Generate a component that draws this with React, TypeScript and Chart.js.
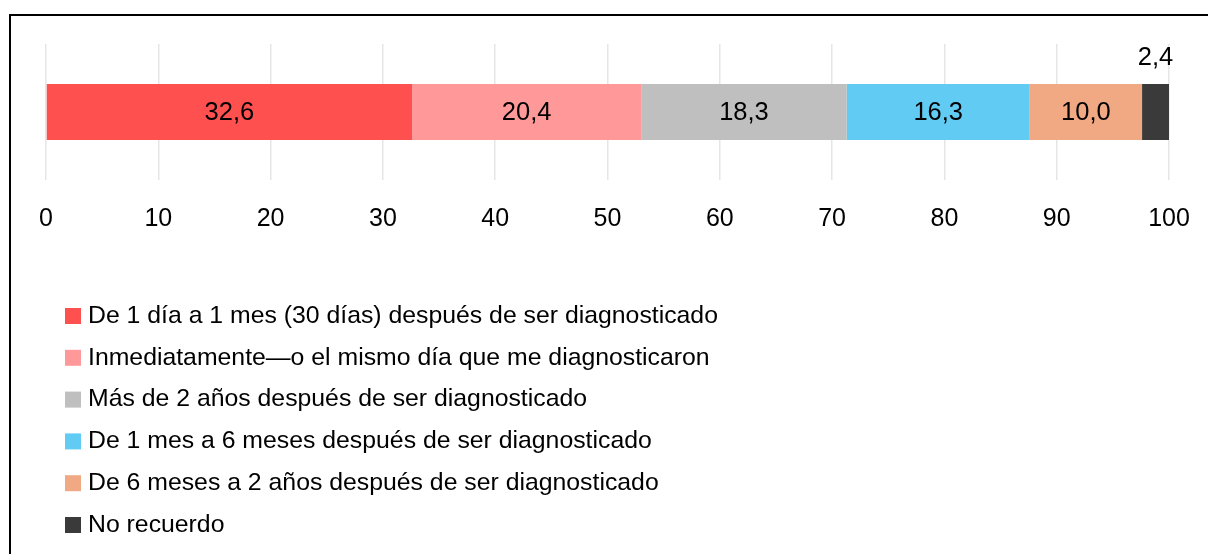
import React, { useEffect, useRef } from "react";
import { Chart, registerables } from "chart.js";

Chart.register(...registerables);

const categories = ["Respuesta"];
const seriesLabels = [
  "De 1 día a 1 mes (30 días) después de ser diagnosticado",
  "Inmediatamente\u2014o el mismo día que me diagnosticaron",
  "Más de 2 años después de ser diagnosticado",
  "De 1 mes a 6 meses después de ser diagnosticado",
  "De 6 meses a 2 años después de ser diagnosticado",
  "No recuerdo",
];
const seriesValues = [32.6, 20.4, 18.3, 16.3, 10.0, 2.4];
const seriesColors = ["#FF5050", "#FF9999", "#BFBFBF", "#61CBF3", "#F1A983", "#3A3A3A"];
const tickValues = [0, 10, 20, 30, 40, 50, 60, 70, 80, 90, 100];

const FONT = "'Liberation Sans', Arial, sans-serif";

const fmt = (v: number) => v.toFixed(1).replace(".", ",");

const labelPlugin = {
  id: "segLabels",
  afterDatasetsDraw(chart: any) {
    const ctx = chart.ctx;
    ctx.save();
    ctx.font = `25.5px ${FONT}`;
    ctx.fillStyle = "#000";
    ctx.textAlign = "center";
    ctx.textBaseline = "middle";
    chart.data.datasets.forEach((ds: any, i: number) => {
      const meta = chart.getDatasetMeta(i);
      meta.data.forEach((bar: any, j: number) => {
        const v = ds.data[j];
        const cx = (bar.x + bar.base) / 2;
        const w = Math.abs(bar.x - bar.base);
        const text = fmt(v);
        const tw = ctx.measureText(text).width;
        if (tw + 6 < w) {
          ctx.fillText(text, cx, bar.y + 1);
        } else {
          ctx.fillText(text, cx, bar.y - bar.height / 2 - 26);
        }
      });
    });
    ctx.restore();
  },
};

const legendPlugin = {
  id: "vertLegend",
  afterDraw(chart: any) {
    const ctx = chart.ctx;
    ctx.save();
    ctx.font = `24.8px ${FONT}`;
    ctx.textAlign = "left";
    ctx.textBaseline = "middle";
    const startY = 316;
    const step = 41.8;
    chart.data.datasets.forEach((ds: any, i: number) => {
      const y = startY + i * step;
      ctx.fillStyle = ds.backgroundColor;
      ctx.fillRect(65, y - 8, 16, 16);
      ctx.fillStyle = "#000";
      ctx.fillText(ds.label, 88, y);
    });
    ctx.restore();
  },
};

export default function App() {
  const ref = useRef<HTMLCanvasElement>(null);
  useEffect(() => {
    if (!ref.current) return;
    const chart = new Chart(ref.current, {
      type: "bar",
      data: {
        labels: categories,
        datasets: seriesLabels.map((label, i) => ({
          label,
          data: [seriesValues[i]],
          backgroundColor: seriesColors[i],
          borderWidth: 0,
          barPercentage: 0.41,
          categoryPercentage: 1,
        })),
      },
      options: {
        indexAxis: "y",
        animation: false,
        responsive: false,
        devicePixelRatio: 1,
        layout: { padding: { left: 46, right: 39, top: 44, bottom: 296 } },
        plugins: {
          legend: { display: false },
          tooltip: { enabled: false },
          title: { display: false },
        },
        scales: {
          x: {
            stacked: true,
            min: 0,
            max: 100,
            afterBuildTicks: (scale: any) => {
              scale.ticks = tickValues.map((v) => ({ value: v }));
            },
            afterFit: (scale: any) => {
              scale.paddingLeft = 0;
              scale.paddingRight = 0;
            },
            ticks: {
              color: "#000",
              font: { family: FONT, size: 25 },
              padding: 24,
              maxRotation: 0,
              autoSkip: false,
              callback: (v: any) => String(v),
            },
            grid: { color: "#E6E6E6", lineWidth: 1.5, drawTicks: false },
            border: { display: false },
          },
          y: {
            stacked: true,
            display: false,
          },
        },
      },
      plugins: [labelPlugin, legendPlugin],
    });
    return () => chart.destroy();
  }, []);
  return (
    <div
      style={{
        position: "absolute",
        left: 0,
        top: 0,
        width: 1208,
        height: 554,
        overflow: "hidden",
        background: "#fff",
      }}
    >
      <canvas ref={ref} width={1208} height={554} style={{ display: "block" }} />
      <div
        style={{
          position: "absolute",
          left: 9,
          top: 14,
          width: 1400,
          height: 800,
          borderLeft: "2px solid #000",
          borderTop: "2px solid #000",
          pointerEvents: "none",
        }}
      />
    </div>
  );
}
